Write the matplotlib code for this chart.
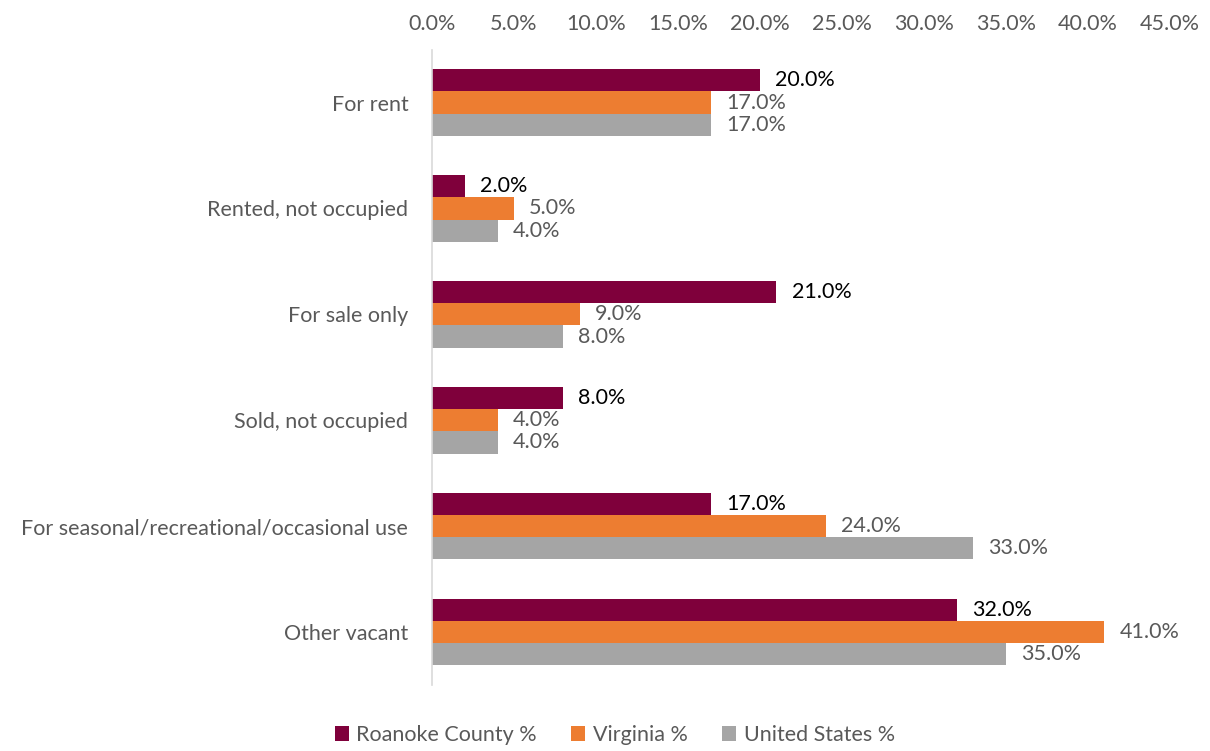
import matplotlib
matplotlib.use("Agg")
import matplotlib.pyplot as plt
import numpy as np
from matplotlib.ticker import FuncFormatter

categories = ["For rent", "Rented, not occupied", "For sale only", "Sold, not occupied",
              "For seasonal/recreational/occasional use", "Other vacant"]
roanoke = [20.0, 2.0, 21.0, 8.0, 17.0, 32.0]
virginia = [17.0, 5.0, 9.0, 4.0, 24.0, 41.0]
united_states = [17.0, 4.0, 8.0, 4.0, 33.0, 35.0]
series_names = ["Roanoke County %", "Virginia %", "United States %"]
colors = ["#7F003B", "#ED7D31", "#A5A5A5"]
label_colors = ["#000000", "#595959", "#595959"]

plt.rcParams["font.family"] = ["Lato", "DejaVu Sans"]
FS = 15.5

fig = plt.figure(figsize=(12.1, 7.51), dpi=100)
ax = fig.add_axes([0.357, 0.088, 0.610, 0.846])

y = np.arange(len(categories))
h = 0.21
series = [roanoke, virginia, united_states]
for i, (vals, name, c, lc) in enumerate(zip(series, series_names, colors, label_colors)):
    pos = y + (i - 1) * h
    ax.barh(pos, vals, height=h, color=c, label=name)
    for p, v in zip(pos, vals):
        ax.annotate(f"{v:.1f}%", (v, p), xytext=(11, 0), textcoords="offset points",
                    va="center", ha="left", fontsize=FS, color=lc)

ax.set_xlim(0, 45)
ax.set_xticks(np.arange(0, 46, 5))
ax.xaxis.set_major_formatter(FuncFormatter(lambda v, _: f"{v:.1f}%"))
ax.xaxis.tick_top()
ax.set_ylim(len(categories) - 0.5, -0.5)
ax.set_yticks(y)
ax.set_yticklabels(categories)
ax.tick_params(axis="both", length=0, labelsize=FS, labelcolor="#595959")
ax.tick_params(axis="x", pad=11)
ax.tick_params(axis="y", pad=17)
for s in ["top", "right", "bottom"]:
    ax.spines[s].set_visible(False)
ax.spines["left"].set_color("#D9D9D9")
ax.spines["left"].set_linewidth(1.2)

leg = fig.legend(loc="lower center", bbox_to_anchor=(0.508, -0.018), ncol=3, frameon=False,
                 fontsize=FS, handlelength=0.65, handleheight=0.65, columnspacing=1.6,
                 handletextpad=0.35)
for t in leg.get_texts():
    t.set_color("#595959")

fig.savefig("out.png", dpi=100)
